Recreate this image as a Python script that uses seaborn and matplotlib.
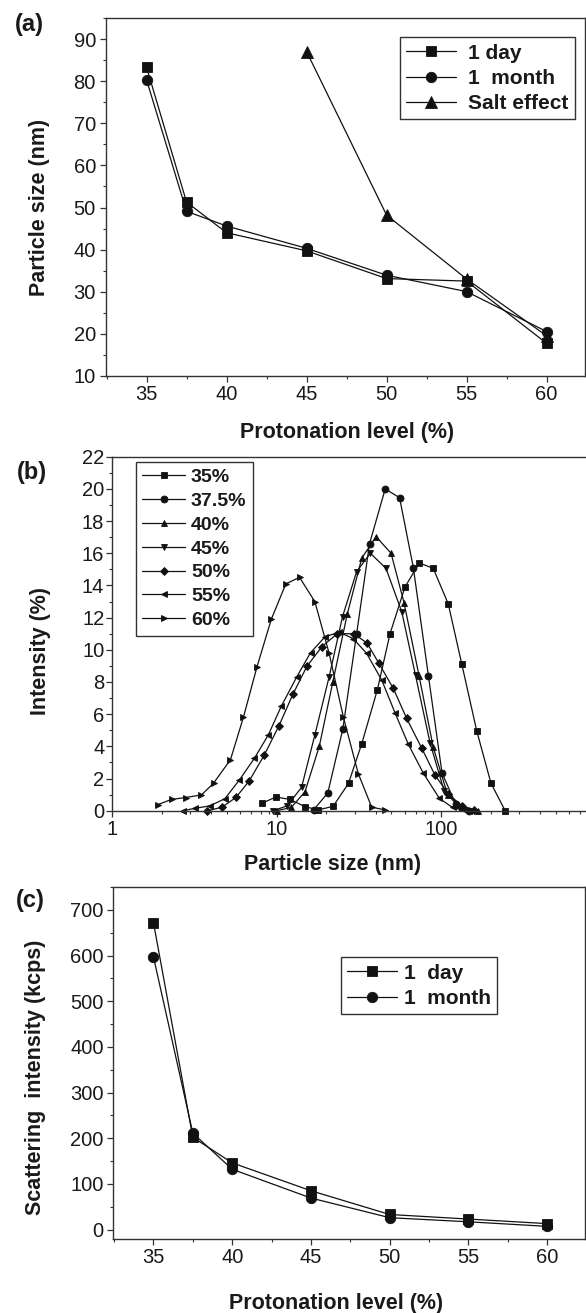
import matplotlib
matplotlib.use("Agg")
import matplotlib.pyplot as plt
import seaborn as sns
import pandas as pd
from matplotlib.ticker import MultipleLocator, FixedLocator, FixedFormatter, NullFormatter

# ---------------- (a) particle size vs protonation level ----------------
protonation = [35, 37.5, 40, 45, 50, 55, 60]
size_1day = [83.4, 51.3, 44.0, 39.7, 33.1, 32.5, 17.7]
size_1month = [80.4, 49.1, 45.6, 40.3, 33.9, 30.0, 20.5]
salt_protonation = [45, 50, 55, 60]
size_salt = [87.1, 48.2, 33.0, 19.5]

# ---------------- (b) intensity-weighted size distributions ----------------
d35_nm = [8.13, 9.93, 12.1, 14.9, 17.9, 22.1, 27.4, 33.0, 41.0, 49.0, 60.4, 73.8, 89.7, 110.7, 133.7, 164.8, 201.4, 245.5]
d35_int = [0.46, 0.85, 0.7, 0.25, 0.05, 0.27, 1.7, 4.17, 7.5, 11.0, 13.9, 15.4, 15.06, 12.85, 9.12, 4.97, 1.7, 0.0]

d375_nm = [16.8, 20.5, 25.3, 30.7, 36.8, 45.8, 56.0, 67.9, 83.8, 101.4, 123.0, 147.9]
d375_int = [0.05, 1.1, 5.07, 11.0, 16.6, 20.0, 19.45, 15.1, 8.4, 2.35, 0.4, 0.0]

d40_nm = [10.0, 12.3, 14.9, 18.2, 22.0, 26.9, 33.0, 40.3, 49.7, 59.6, 73.5, 89.7, 109.6, 134.9, 169.0]
d40_int = [0.0, 0.2, 1.18, 4.0, 8.0, 12.2, 15.7, 17.03, 16.0, 12.93, 8.4, 3.94, 1.0, 0.25, 0.0]

d45_nm = [9.55, 11.6, 14.2, 17.1, 20.9, 25.2, 30.7, 37.2, 46.3, 57.7, 70.0, 85.7, 104.7, 128.8, 154.9]
d45_int = [0.0, 0.3, 1.45, 4.7, 8.33, 12.06, 14.86, 16.0, 15.06, 12.37, 8.41, 4.23, 1.2, 0.25, 0.0]

d50_nm = [3.80, 4.65, 5.68, 6.84, 8.43, 10.35, 12.6, 15.3, 18.9, 23.4, 29.5, 35.5, 41.7, 51.3, 61.8, 76.4, 92.0, 110.9, 133.4, 158.5]
d50_int = [0.0, 0.21, 0.83, 1.87, 3.46, 5.28, 7.25, 8.97, 10.2, 11.0, 11.0, 10.42, 9.2, 7.6, 5.74, 3.88, 2.2, 1.05, 0.3, 0.05]

d55_nm = [2.69, 3.20, 3.94, 4.86, 5.94, 7.33, 8.91, 10.7, 13.3, 16.1, 19.7, 24.0, 29.2, 35.3, 43.7, 52.5, 63.2, 78.2, 97.7, 117.5, 141.3]
d55_int = [0.0, 0.15, 0.3, 0.75, 1.9, 3.25, 4.7, 6.5, 8.33, 9.82, 10.8, 11.1, 10.7, 9.78, 8.1, 6.09, 4.14, 2.32, 0.77, 0.2, 0.0]

d60_nm = [1.9, 2.3, 2.8, 3.5, 4.15, 5.25, 6.3, 7.6, 9.3, 11.4, 13.8, 17.1, 20.9, 25.5, 31.4, 37.9, 45.7]
d60_int = [0.38, 0.7, 0.82, 0.98, 1.72, 3.17, 5.82, 8.92, 11.9, 14.1, 14.5, 13.0, 9.77, 5.82, 2.31, 0.22, 0.05]

dist_labels = ["35%", "37.5%", "40%", "45%", "50%", "55%", "60%"]
dist_markers = ["s", "o", "^", "v", "D", "<", ">"]

# ---------------- (c) scattering intensity ----------------
scat_1day = [672, 202, 146, 85, 33, 23, 13]
scat_1month = [597, 211, 132, 69, 26, 17, 7]

sns.set_theme(style="ticks")
plt.rcParams["font.family"] = ["Liberation Sans", "DejaVu Sans"]
plt.rcParams["axes.linewidth"] = 1.0
plt.rcParams["axes.edgecolor"] = "#333333"
plt.rcParams["text.color"] = "#1a1a1a"
plt.rcParams["axes.labelcolor"] = "#1a1a1a"
plt.rcParams["xtick.color"] = "#333333"
plt.rcParams["ytick.color"] = "#333333"
plt.rcParams["xtick.labelcolor"] = "#1a1a1a"
plt.rcParams["ytick.labelcolor"] = "#1a1a1a"

W, H = 586, 1313
fig = plt.figure(figsize=(W / 100, H / 100), dpi=100)


def axes_px(left, right, top, bottom):
    return fig.add_axes([left / W, 1 - bottom / H, (right - left) / W, (bottom - top) / H])


LINE = "#111111"
TICK_FS = 14.5
LABEL_FS = 15.5


def style_axes(ax):
    ax.tick_params(which="major", direction="out", length=4, width=0.9, labelsize=TICK_FS, pad=3,
                   top=False, right=False)
    ax.tick_params(which="minor", direction="out", length=2.3, width=0.8, top=False, right=False)
    for s in ax.spines.values():
        s.set_visible(True)
        s.set_linewidth(1.0)


def draw_series(ax, x, y, marker, ms, label):
    df = pd.DataFrame({"x": x, "y": y})
    sns.lineplot(data=df, x="x", y="y", ax=ax, color=LINE, marker=marker, markersize=ms,
                 markeredgecolor=LINE, markerfacecolor=LINE, markeredgewidth=0.6,
                 linewidth=0.9, sort=False, estimator=None, label=label, legend=False)
    ax.lines[-1].set_clip_on(False)
    ax.lines[-1].set_label(label)


# ---------------- panel (a) ----------------
ax1 = axes_px(105.7, 585, 18.3, 375.7)
draw_series(ax1, protonation, size_1day, "s", 7, "1 day")
draw_series(ax1, protonation, size_1month, "o", 7.5, "1  month")
draw_series(ax1, salt_protonation, size_salt, "^", 8, "Salt effect")
ax1.set_xlim(32.45, 62.4)
ax1.set_ylim(10, 95)
ax1.xaxis.set_major_locator(FixedLocator([35, 40, 45, 50, 55, 60]))
ax1.xaxis.set_minor_locator(MultipleLocator(2.5))
ax1.yaxis.set_major_locator(MultipleLocator(10))
ax1.yaxis.set_minor_locator(MultipleLocator(5))
style_axes(ax1)
ax1.set_xlabel("Protonation level (%)", fontsize=LABEL_FS, fontweight="bold", va="center")
ax1.set_ylabel("Particle size (nm)", fontsize=LABEL_FS, fontweight="bold", va="center")
ax1.xaxis.set_label_coords(0.504, -0.160)
ax1.yaxis.set_label_coords(-0.139, 0.47)
leg1 = ax1.legend(loc="upper right", bbox_to_anchor=(575 / W, 1 - 37.3 / H), bbox_transform=fig.transFigure,
                  frameon=True, fancybox=False, edgecolor="#333333", framealpha=1, borderaxespad=0,
                  prop={"weight": "bold", "size": 15}, handlelength=2.4, handletextpad=0.6,
                  borderpad=0.3, labelspacing=0.3, numpoints=1)
leg1.get_frame().set_linewidth(1.0)

# ---------------- panel (b) ----------------
ax2 = axes_px(112, 605.5, 456.7, 810.7)
dist_x = [d35_nm, d375_nm, d40_nm, d45_nm, d50_nm, d55_nm, d60_nm]
dist_y = [d35_int, d375_int, d40_int, d45_int, d50_int, d55_int, d60_int]
for xs, ys, mk, lab in zip(dist_x, dist_y, dist_markers, dist_labels):
    ms = 4.2 if mk in ("s", "D") else 5.0
    draw_series(ax2, xs, ys, mk, ms, lab)
ax2.set_xscale("log")
ax2.set_xlim(1, 1000)
ax2.set_ylim(0, 22)
ax2.xaxis.set_major_locator(FixedLocator([1, 10, 100]))
ax2.xaxis.set_major_formatter(FixedFormatter(["1", "10", "100"]))
ax2.xaxis.set_minor_locator(FixedLocator([m * 10 ** e for e in range(0, 3) for m in range(2, 10)]))
ax2.xaxis.set_minor_formatter(NullFormatter())
ax2.yaxis.set_major_locator(MultipleLocator(2))
ax2.yaxis.set_minor_locator(MultipleLocator(1))
style_axes(ax2)
ax2.tick_params(axis="y", which="major", pad=1.5)
ax2.set_xlabel("Particle size (nm)", fontsize=LABEL_FS, fontweight="bold", va="center")
ax2.set_ylabel("Intensity (%)", fontsize=LABEL_FS, fontweight="bold", va="center")
ax2.xaxis.set_label_coords(0.447, -0.153)
ax2.yaxis.set_label_coords(-0.144, 0.452)
leg2 = ax2.legend(loc="upper left", bbox_to_anchor=(135.5 / W, 1 - 461.7 / H), bbox_transform=fig.transFigure,
                  frameon=True, fancybox=False, edgecolor="#333333", framealpha=1, borderaxespad=0,
                  prop={"weight": "bold", "size": 14}, handlelength=2.2, handletextpad=0.3,
                  borderpad=0.35, labelspacing=0.32, numpoints=1)
leg2.get_frame().set_linewidth(1.0)

# ---------------- panel (c) ----------------
ax3 = axes_px(113.3, 585, 887, 1238.7)
draw_series(ax3, protonation, scat_1day, "s", 7, "1  day")
draw_series(ax3, protonation, scat_1month, "o", 7.5, "1  month")
ax3.set_xlim(32.45, 62.4)
ax3.set_ylim(-20, 750)
ax3.xaxis.set_major_locator(FixedLocator([35, 40, 45, 50, 55, 60]))
ax3.xaxis.set_minor_locator(MultipleLocator(2.5))
ax3.yaxis.set_major_locator(FixedLocator(list(range(0, 701, 100))))
ax3.yaxis.set_minor_locator(MultipleLocator(50))
style_axes(ax3)
ax3.set_xlabel("Protonation level (%)", fontsize=LABEL_FS, fontweight="bold", va="center")
ax3.set_ylabel("Scattering  intensity (kcps)", fontsize=LABEL_FS, fontweight="bold", va="center")
ax3.xaxis.set_label_coords(0.473, -0.183)
ax3.yaxis.set_label_coords(-0.165, 0.458)
leg3 = ax3.legend(loc="upper left", bbox_to_anchor=(341 / W, 1 - 957.3 / H), bbox_transform=fig.transFigure,
                  frameon=True, fancybox=False, edgecolor="#333333", framealpha=1, borderaxespad=0,
                  prop={"weight": "bold", "size": 15}, handlelength=2.4, handletextpad=0.3,
                  borderpad=0.3, labelspacing=0.3, numpoints=1)
leg3.get_frame().set_linewidth(1.0)

# panel letters
for lab, (px, py) in zip(["(a)", "(b)", "(c)"], [(29, 25), (32, 473), (30, 900)]):
    fig.text(px / W, 1 - py / H, lab, fontsize=17, fontweight="bold", ha="center", va="center")

fig.savefig("out.png", dpi=100)
